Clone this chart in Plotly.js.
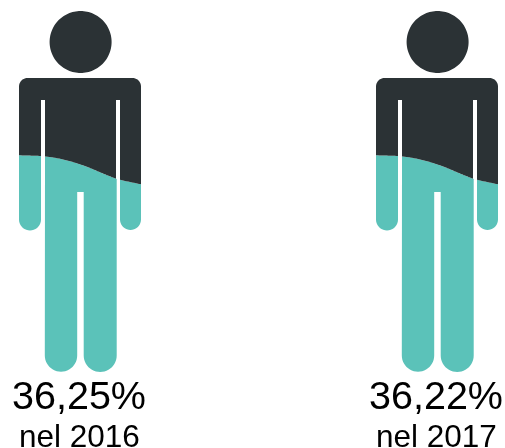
<!DOCTYPE html>
<html>
<head>
<meta charset="utf-8">
<script src="https://cdn.plot.ly/plotly-3.0.1.min.js"></script>
<style>html,body{margin:0;padding:0;background:#fff}#chart{width:505px;height:448px;filter:blur(0.45px)}</style>
</head>
<body>
<div id="chart"></div>
<script>
const shares = ["36,25%", "36,22%"];
const years = ["nel 2016", "nel 2017"];
const figureOffsets = [0, 357];
const waveX = [19, 41, 47, 56, 65, 74, 82, 90, 98, 115, 122, 141];
const waveY = [155.3, 156, 156.7, 158, 160, 162.4, 165, 168, 171.4, 178.3, 180.3, 184.3];
const darkColor = "#2b3235";
const tealColor = "#5bc2b9";

function arc(cx, cy, r, a0, a1, n) {
  const pts = [];
  for (let i = 0; i <= n; i++) {
    const a = (a0 + (a1 - a0) * i / n) * Math.PI / 180;
    pts.push([cx + r * Math.cos(a), cy + r * Math.sin(a)]);
  }
  return pts;
}
// smooth curve through the read edge points
function edgeY(x) {
  let i = 0;
  while (i < waveX.length - 2 && x > waveX[i + 1]) i++;
  const x0 = waveX[i], x1 = waveX[i + 1], h = x1 - x0, t = (x - x0) / h;
  const slope = k => {
    const a = Math.max(k - 1, 0), b = Math.min(k + 1, waveX.length - 1);
    return (waveY[b] - waveY[a]) / (waveX[b] - waveX[a]);
  };
  const m0 = slope(i), m1 = slope(i + 1), t2 = t * t, t3 = t2 * t;
  return (2 * t3 - 3 * t2 + 1) * waveY[i] + (t3 - 2 * t2 + t) * h * m0 +
         (-2 * t3 + 3 * t2) * waveY[i + 1] + (t3 - t2) * h * m1;
}
function waveBetween(x0, x1) {
  const pts = [], n = Math.ceil(Math.abs(x1 - x0));
  for (let i = 0; i <= n; i++) {
    const x = x0 + (x1 - x0) * i / n;
    pts.push([x, edgeY(x)]);
  }
  return pts;
}
function darkOutline() {
  return [
    ...arc(27.5, 86.5, 8.5, 180, 270, 10),
    ...arc(132.5, 86.5, 8.5, 270, 360, 10),
    ...waveBetween(141, 120),
    [120, 100], [116, 100],
    ...waveBetween(116, 45),
    [45, 100], [41, 100],
    ...waveBetween(41, 19)
  ];
}
function tealOutlines() {
  const leftArm = [
    ...waveBetween(19, 41),
    ...arc(30, 219.5, 11, 0, 180, 18)
  ];
  const rightArm = [
    ...waveBetween(120, 141),
    ...arc(130.5, 219.5, 10.5, 0, 180, 18)
  ];
  const body = [
    ...waveBetween(45, 116.7),
    ...arc(100.2, 355.5, 16.5, 0, 180, 24),
    [83.7, 192], [77.2, 192],
    ...arc(61, 355.5, 16.2, 0, 180, 24)
  ];
  return [leftArm, rightArm, body];
}
const head = arc(80.6, 42, 31, 0, 360, 120);

function toTrace(polys, dx, color) {
  const x = [], y = [];
  polys.forEach(poly => {
    poly.forEach(p => { x.push(p[0] + dx); y.push(p[1]); });
    x.push(poly[0][0] + dx); y.push(poly[0][1]);
    x.push(null); y.push(null);
  });
  return {
    type: "scatter", mode: "lines", x, y, fill: "toself", fillcolor: color,
    line: {width: 0, color, simplify: false}, hoverinfo: "skip", showlegend: false
  };
}

const traces = [];
const annotations = [];
figureOffsets.forEach((dx, i) => {
  traces.push(toTrace(tealOutlines(), dx, tealColor));
  traces.push(toTrace([head, darkOutline()], dx, darkColor));
  annotations.push({
    x: 79 + dx, y: 395, text: shares[i], showarrow: false, xanchor: "center", yanchor: "middle",
    font: {family: "Liberation Sans, Arial, sans-serif", size: 39.5, color: "#000000"}
  });
  annotations.push({
    x: 79 + dx, y: 435.5, text: years[i], showarrow: false, xanchor: "center", yanchor: "middle",
    font: {family: "Liberation Sans, Arial, sans-serif", size: 31.5, color: "#000000"}
  });
});

Plotly.newPlot("chart", traces, {
  width: 505, height: 448,
  margin: {l: 0, r: 0, t: 0, b: 0},
  paper_bgcolor: "#ffffff", plot_bgcolor: "#ffffff",
  xaxis: {range: [0, 505], visible: false, fixedrange: true},
  yaxis: {range: [448, 0], visible: false, fixedrange: true},
  annotations
}, {displayModeBar: false, staticPlot: true});
</script>
</body>
</html>
